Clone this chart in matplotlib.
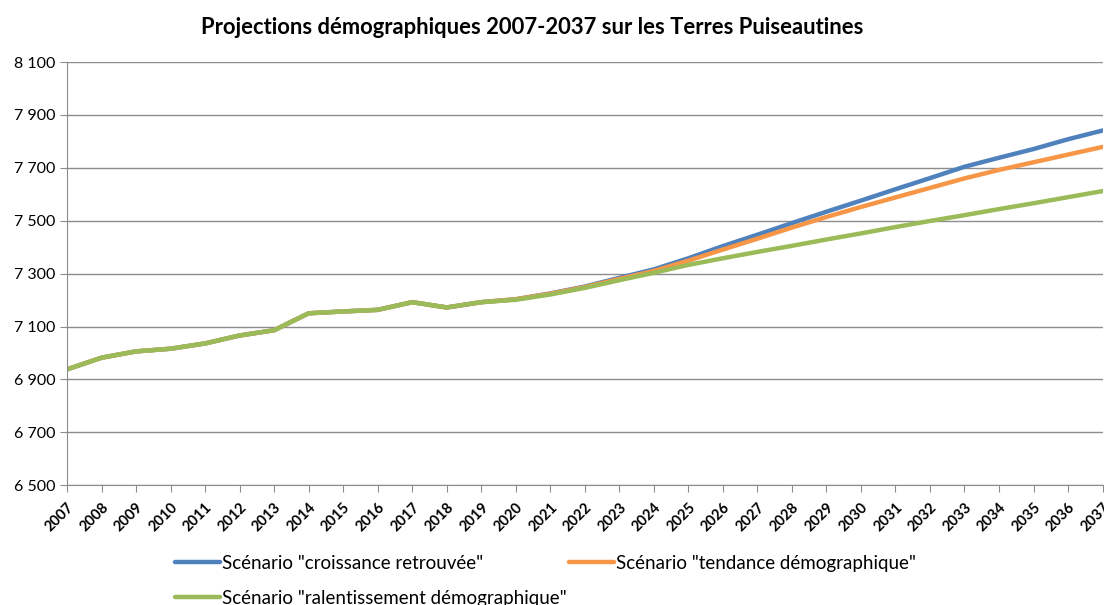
import matplotlib.pyplot as plt

plt.rcParams['font.family'] = ['Lato', 'DejaVu Sans']

years = list(range(2007, 2038))
# shared history 2007-2021, then scenarios diverge
croissance = [6938, 6982, 7006, 7016, 7036, 7066, 7086, 7150, 7157, 7163, 7192, 7172, 7192, 7203, 7225,
              7251, 7284, 7316, 7358, 7404, 7447, 7491, 7534, 7576, 7619, 7661, 7704, 7738, 7771, 7808, 7841]
tendance = [6938, 6982, 7006, 7016, 7036, 7066, 7086, 7150, 7157, 7163, 7192, 7172, 7192, 7203, 7224,
            7249, 7280, 7310, 7349, 7391, 7432, 7474, 7514, 7552, 7588, 7624, 7660, 7692, 7721, 7750, 7779]
ralentissement = [6938, 6982, 7006, 7016, 7036, 7066, 7086, 7150, 7157, 7163, 7192, 7172, 7192, 7201, 7221,
                  7246, 7275, 7303, 7333, 7358, 7382, 7405, 7429, 7452, 7476, 7499, 7521, 7544, 7566, 7589, 7612]
labels = ['Scénario "croissance retrouvée"', 'Scénario "tendance démographique"',
          'Scénario "ralentissement démographique"']
colors = ['#4F81BD', '#F79646', '#9BBB59']
yticks = list(range(6500, 8101, 200))

fig = plt.figure(figsize=(11.04, 6.05), dpi=100)
ax = fig.add_axes([0.0607, 0.198, 0.938, 0.6995])

lines = []
for serie, lab, col in zip([croissance, tendance, ralentissement], labels, colors):
    l, = ax.plot(years, serie, color=col, lw=3.2, label=lab, solid_capstyle='round')
    lines.append(l)

ax.set_xlim(2007, 2037)
ax.set_ylim(6500, 8100)
ax.set_yticks(yticks)
ax.set_yticklabels([f'{v:,}'.replace(',', ' ') for v in yticks], fontsize=11.5)
ax.set_xticks(years)
ax.set_xticklabels([str(y) for y in years], rotation=45, ha='right', rotation_mode='anchor',
                   fontsize=10.5, fontweight='bold')
ax.grid(axis='y', color='#8c8c8c', lw=1)
ax.set_axisbelow(True)
for s in ['top', 'right']:
    ax.spines[s].set_visible(False)
ax.spines['left'].set_color('#8c8c8c')
ax.spines['bottom'].set_color('#8c8c8c')
ax.tick_params(axis='both', colors='#8c8c8c', labelcolor='black', length=5)
ax.tick_params(axis='x', pad=6)

fig.text(0.482, 0.955, 'Projections démographiques 2007-2037 sur les Terres Puiseautines',
         ha='center', va='center', fontsize=15.8, fontweight='bold')

# column-major fill: blue, green in col 1, orange in col 2
order = [0, 2, 1]
fig.legend([lines[i] for i in order], [labels[i] for i in order],
           loc='upper left', bbox_to_anchor=(0.152, 0.095), ncol=2, frameon=False,
           fontsize=13.5, handlelength=2.4, handletextpad=0.1, columnspacing=0.1,
           labelspacing=0.95, borderaxespad=0)

fig.savefig('out.png', dpi=100)
